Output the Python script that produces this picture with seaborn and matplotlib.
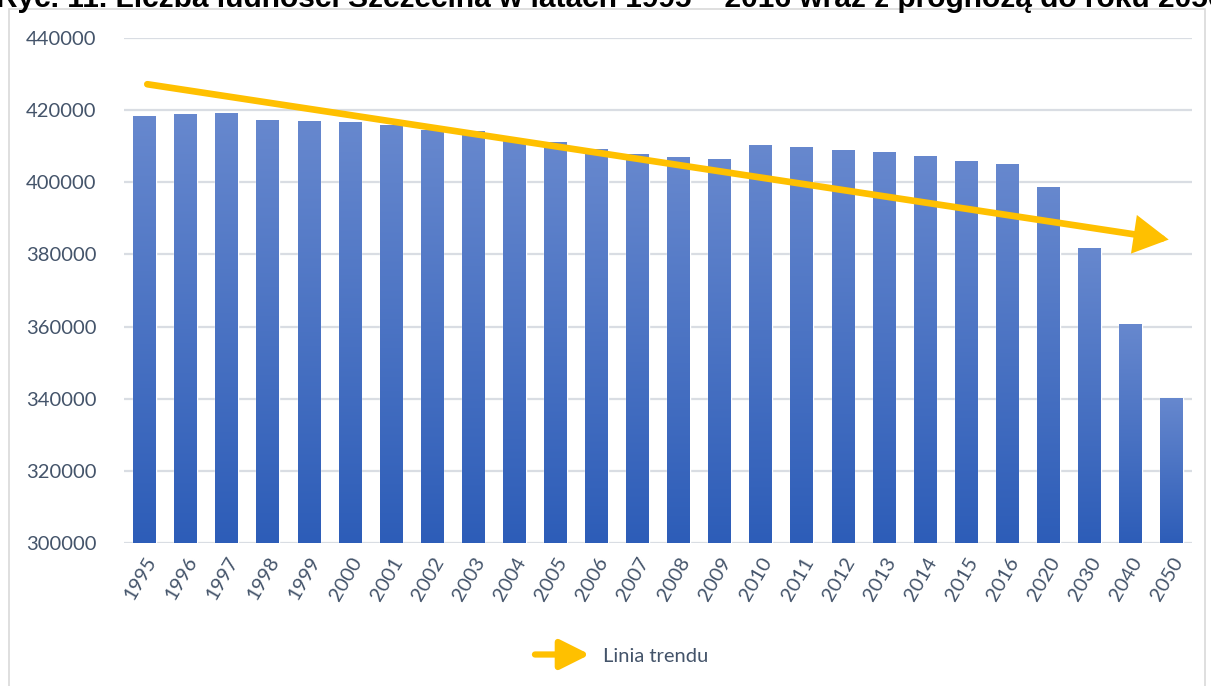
"""Population of Szczecin 1995-2016 with forecast to 2050, trend arrow."""
import numpy as np
import matplotlib
matplotlib.use("Agg")
import matplotlib.pyplot as plt
import seaborn as sns
from matplotlib.patches import FancyArrowPatch, Rectangle
from matplotlib.legend_handler import HandlerBase
from matplotlib.colors import LinearSegmentedColormap

# --- data ---
years = ["1995", "1996", "1997", "1998", "1999", "2000", "2001", "2002", "2003",
         "2004", "2005", "2006", "2007", "2008", "2009", "2010", "2011", "2012",
         "2013", "2014", "2015", "2016", "2020", "2030", "2040", "2050"]
population = [418300, 418900, 419200, 417300, 417000, 416700, 416000, 414600, 414200,
              411600, 411200, 409200, 407800, 407000, 406400, 410300, 409800, 409000,
              408400, 407300, 405900, 405100, 398700, 381800, 360800, 340300]
trend_start = 427300
trend_end = 384000
y_ticks = [300000, 320000, 340000, 360000, 380000, 400000, 420000, 440000]

title = "Ryc. 11. Liczba ludności Szczecina w latach 1995 – 2016 wraz z prognozą do roku 2050"
legend_label = "Linia trendu"

TEXT = "#44546A"
GRID = "#D9DDE3"
TREND = "#FFC000"
BAR_TOP = "#6788CE"
BAR_BOTTOM = "#2D5DB8"

sns.set_theme(style="white")
plt.rcParams["font.family"] = ["Lato", "DejaVu Sans"]

fig = plt.figure(figsize=(12.11, 6.86), dpi=100)
ax = fig.add_axes([124 / 1211, 1 - 543 / 686, (1192 - 124) / 1211, (543 - 38) / 686])

sns.barplot(x=years, y=population, color=BAR_BOTTOM, width=0.55, ax=ax, zorder=2)

# vertical gradient inside each bar (light top -> dark bottom)
cmap = LinearSegmentedColormap.from_list("bar", [BAR_BOTTOM, BAR_TOP])
grad = np.linspace(0, 1, 256).reshape(-1, 1)
ymin, ymax = y_ticks[0], y_ticks[-1]
for p in ax.patches:
    x0, w = p.get_x(), p.get_width()
    top = p.get_y() + p.get_height()
    im = ax.imshow(grad, cmap=cmap, origin="lower", aspect="auto",
                   extent=[x0, x0 + w, ymin, top], zorder=2.1)
    im.set_clip_path(p)

ax.set_xlim(-0.5, len(years) - 0.5)
ax.set_ylim(ymin, ymax)
ax.set_yticks(y_ticks)
ax.set_yticklabels([str(v) for v in y_ticks])
ax.yaxis.grid(True, color=GRID, lw=1.6, zorder=0)
ax.set_axisbelow(True)
for s in ax.spines.values():
    s.set_visible(False)
ax.tick_params(axis="y", length=0, pad=20, labelsize=14.5, labelcolor=TEXT)
ax.tick_params(axis="x", length=0, pad=8, labelsize=14.5, labelcolor=TEXT)
plt.setp(ax.get_xticklabels(), rotation=60, ha="right", rotation_mode="anchor")
ax.set_xlabel("")
ax.set_ylabel("")

# trend arrow
arrow = FancyArrowPatch((0, trend_start), (len(years) - 1, trend_end),
                        arrowstyle="-|>,head_width=0.5,head_length=0.9",
                        mutation_scale=20, color=TREND, lw=4.8,
                        capstyle="round", joinstyle="miter", zorder=5)
ax.add_patch(arrow)


class ArrowHandler(HandlerBase):
    def create_artists(self, legend, orig_handle, xdescent, ydescent,
                       width, height, fontsize, trans):
        y = height / 2 - ydescent
        a = FancyArrowPatch((-xdescent, y), (width - xdescent, y),
                            arrowstyle="-|>,head_width=0.45,head_length=0.9",
                            mutation_scale=20, color=TREND, lw=4.5,
                            capstyle="round", transform=trans)
        return [a]


leg = fig.legend(handles=[arrow], labels=[legend_label],
                 handler_map={FancyArrowPatch: ArrowHandler()},
                 loc="center", bbox_to_anchor=(0.512, 1 - 656 / 686),
                 frameon=False, handlelength=3.0, handletextpad=0.5,
                 fontsize=14.5)
for t in leg.get_texts():
    t.set_color(TEXT)

# outer chart frame and the caption above it (clipped by the page edge, as in the source)
fig.patches.append(Rectangle((9 / 1211, -0.05), (1205 - 9) / 1211, 1.05 - 9 / 686,
                             transform=fig.transFigure, fill=False,
                             edgecolor="#D9D9D9", lw=1.2, zorder=0))
fig.text(-0.003, 1 - 7 / 686, title, fontsize=21.5, fontweight="bold",
         family=["Liberation Sans", "DejaVu Sans"], color="black",
         ha="left", va="baseline")

fig.savefig("out.png", dpi=100)
